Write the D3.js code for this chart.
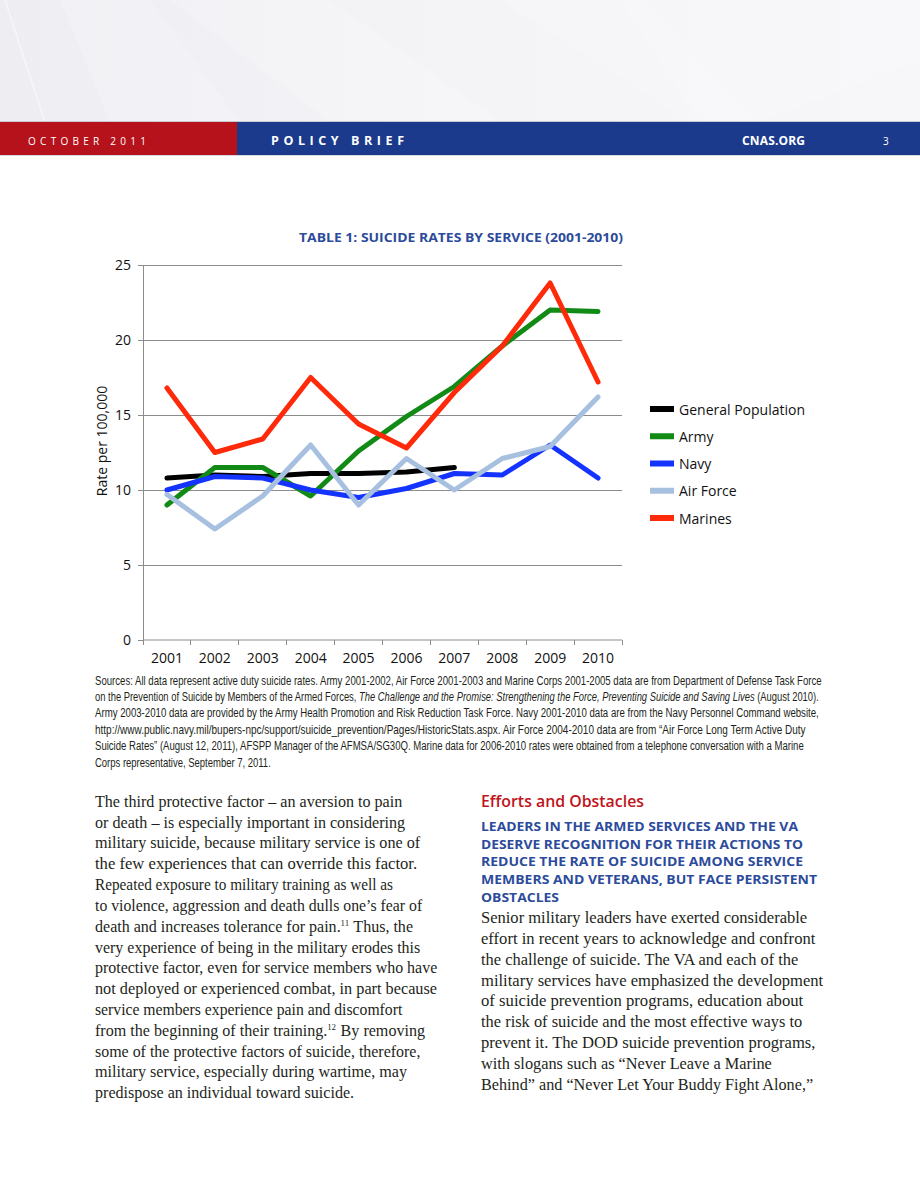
<!DOCTYPE html>
<html><head><meta charset="utf-8">
<script src="https://cdn.jsdelivr.net/npm/d3@7"></script>
<style>body{margin:0;background:#fff} svg{display:block}</style>
</head><body><svg id="c" width="920" height="1191"></svg>
<script>
// ---------- DATA ----------
const years = ["2001","2002","2003","2004","2005","2006","2007","2008","2009","2010"];
const generalPopulation = [10.8, 11.0, 10.9, 11.1, 11.1, 11.2, 11.5];
const army     = [9.0, 11.5, 11.5, 9.6, 12.6, 14.9, 16.9, 19.6, 22.0, 21.9];
const navy     = [10.0, 10.9, 10.8, 10.0, 9.5, 10.1, 11.1, 11.0, 13.0, 10.8];
const airForce = [9.7, 7.4, 9.6, 13.0, 9.0, 12.1, 10.0, 12.1, 12.9, 16.2];
const marines  = [16.8, 12.5, 13.4, 17.5, 14.4, 12.8, 16.5, 19.6, 23.8, 17.2];
const seriesNames = ["General Population","Army","Navy","Air Force","Marines"];
const seriesColors = ["#000000","#118a16","#1433ff","#a8c0e0","#ff2a0a"];
const yTicks = [0,5,10,15,20,25];
const chartTitle = "TABLE 1: SUICIDE RATES BY SERVICE (2001-2010)";
const yTitle = "Rate per 100,000";

const series = [generalPopulation, army, navy, airForce, marines].map((v,i)=>({name:seriesNames[i], color:seriesColors[i], values:v}));

const svg = d3.select("#c");

// ---------- HEADER ----------
const defs = svg.append("defs");
const gr = defs.append("linearGradient").attr("id","hg").attr("x1","0").attr("x2","1").attr("y1","0").attr("y2","0");
gr.append("stop").attr("offset","0").attr("stop-color","#eeedf2");
gr.append("stop").attr("offset","0.5").attr("stop-color","#f4f4f7");
gr.append("stop").attr("offset","1").attr("stop-color","#f7f7f9");
svg.append("rect").attr("x",0).attr("y",0).attr("width",920).attr("height",122).attr("fill","url(#hg)");
[[ [60,0],[150,0],[240,122],[110,122] ],[ [170,0],[330,0],[500,122],[330,122] ],[ [500,0],[640,0],[760,122],[690,122] ],[ [620,0],[920,0],[920,60],[760,122],[700,122] ]]
 .forEach(p=>svg.append("polygon").attr("points",p.map(d=>d.join(",")).join(" ")).attr("fill","#fff").attr("opacity",0.18));
svg.append("line").attr("x1",5).attr("y1",0).attr("x2",45).attr("y2",122).attr("stroke","#fff").attr("stroke-width",1.5).attr("opacity",0.5);
svg.append("rect").attr("x",0).attr("y",121).attr("width",920).attr("height",1).attr("fill","#c9c9d3");
svg.append("rect").attr("x",0).attr("y",122).attr("width",237).attr("height",33).attr("fill","#b5121b");
svg.append("rect").attr("x",237).attr("y",122).attr("width",683).attr("height",33).attr("fill","#1b3a8c");
svg.append("rect").attr("x",0).attr("y",155).attr("width",920).attr("height",1).attr("fill","#d8d8e0");
const hdr = (t,x,w,size,weight)=>svg.append("text").attr("x",x).attr("y",145).text(t)
  .attr("font-family","Open Sans, sans-serif").attr("font-size",size).attr("font-weight",weight)
  .attr("fill","#fff").attr("textLength",w).attr("lengthAdjust","spacing");
hdr("OCTOBER 2011",28,118,10,400);
hdr("POLICY BRIEF",271,133,12.5,700);
hdr("CNAS.ORG",742,63,12,700);
hdr("3",883,5,10,400);

// ---------- CHART ----------
const x = d3.scaleBand().domain(years).range([143,622]);
const y = d3.scaleLinear().domain([0,25]).range([640,265]);
const g = svg.append("g").attr("font-family","Open Sans, sans-serif");

g.append("text").attr("x",623).attr("y",242).attr("text-anchor","end")
  .attr("font-size",13).attr("font-weight",700).attr("fill","#2c4b9b").text(chartTitle)
  .attr("textLength",324).attr("lengthAdjust","spacingAndGlyphs");

// gridlines
g.append("g").selectAll("line").data(yTicks.filter(d=>d>0)).join("line")
  .attr("x1",143).attr("x2",622).attr("y1",d=>y(d)).attr("y2",d=>y(d))
  .attr("stroke","#8c8c8c").attr("stroke-width",1).attr("shape-rendering","crispEdges");

const yAxis = g.append("g").attr("transform","translate(143,0)")
  .call(d3.axisLeft(y).tickValues(yTicks).tickSize(5).tickPadding(7));
const xAxis = g.append("g").attr("transform","translate(0,640)")
  .call(d3.axisBottom(x).tickSize(0).tickPadding(13));
[yAxis,xAxis].forEach(a=>{
  a.select(".domain").attr("stroke","#8c8c8c");
  a.selectAll(".tick line").attr("stroke","#8c8c8c");
  a.selectAll("text").attr("font-size",14).attr("fill","#111").attr("font-family","Open Sans, sans-serif");
});
xAxis.select(".domain").attr("d","M143,0H622");
// category boundary ticks
g.append("g").selectAll("line").data(years.concat(["end"])).join("line")
  .attr("x1",(d,i)=>143+i*x.step()).attr("x2",(d,i)=>143+i*x.step())
  .attr("y1",640).attr("y2",645).attr("stroke","#8c8c8c").attr("shape-rendering","crispEdges");

g.append("text").attr("transform","translate(107,441) rotate(-90)").attr("text-anchor","middle")
  .attr("font-size",14).attr("fill","#111").text(yTitle);

const line = d3.line().x((d,i)=>x(years[i])+x.bandwidth()/2).y(d=>y(d));
g.append("g").selectAll("path").data(series).join("path")
  .attr("d",d=>line(d.values)).attr("fill","none").attr("stroke",d=>d.color)
  .attr("stroke-width",5).attr("stroke-linejoin","round").attr("stroke-linecap","round");

// legend
const lg = g.append("g").selectAll("g").data(series).join("g")
  .attr("transform",(d,i)=>`translate(650,${409+i*27.25})`);
lg.append("rect").attr("x",0).attr("y",-3).attr("width",24).attr("height",6).attr("fill",d=>d.color);
lg.append("text").attr("x",29).attr("y",5.5).attr("font-size",14).attr("fill","#111").text(d=>d.name);

// ---------- SOURCES ----------
const srcLines = [
  [["Sources: All data represent active duty suicide rates. Army 2001-2002, Air Force 2001-2003 and Marine Corps 2001-2005 data are from Department of Defense Task Force",0]],
  [["on the Prevention of Suicide by Members of the Armed Forces, ",0],["The Challenge and the Promise: Strengthening the Force, Preventing Suicide and Saving Lives",1],[" (August 2010).",0]],
  [["Army 2003-2010 data are provided by the Army Health Promotion and Risk Reduction Task Force. Navy 2001-2010 data are from the Navy Personnel Command website,",0]],
  [["http://www.public.navy.mil/bupers-npc/support/suicide_prevention/Pages/HistoricStats.aspx. Air Force 2004-2010 data are from \u201cAir Force Long Term Active Duty",0]],
  [["Suicide Rates\u201d (August 12, 2011), AFSPP Manager of the AFMSA/SG30Q. Marine data for 2006-2010 rates were obtained from a telephone conversation with a Marine",0]],
  [["Corps representative, September 7, 2011.",0]]
];
const srcW = [728,724,724,711,709,176];
srcLines.forEach((segs,i)=>{
  const t = svg.append("text").attr("x",0).attr("y",0)
    .attr("font-family","Liberation Sans, Arial, sans-serif").attr("font-size",12.3).attr("fill","#231f20");
  segs.forEach(s=>t.append("tspan").text(s[0]).attr("font-style",s[1]?"italic":"normal"));
  const nat = t.node().getComputedTextLength();
  t.attr("transform",`translate(95,${684.5+i*16.4}) scale(${srcW[i]/nat},1)`);
});

// ---------- BODY TEXT ----------
const leftLines = [
  ["The third protective factor \u2013 an aversion to pain"],
  ["or death \u2013 is especially important in considering"],
  ["military suicide, because military service is one of"],
  ["the few experiences that can override this factor."],
  ["Repeated exposure to military training as well as"],
  ["to violence, aggression and death dulls one\u2019s fear of"],
  ["death and increases tolerance for pain.","11"," Thus, the"],
  ["very experience of being in the military erodes this"],
  ["protective factor, even for service members who have"],
  ["not deployed or experienced combat, in part because"],
  ["service members experience pain and discomfort"],
  ["from the beginning of their training.","12"," By removing"],
  ["some of the protective factors of suicide, therefore,"],
  ["military service, especially during wartime, may"],
  ["predispose an individual toward suicide."]
];
const leftW = [307,310,325,322,298,327,318,325,342,342,307,330,325,312,259];
const bodyLine = (parts,xx,yy,w)=>{
  const grp = svg.append("g").attr("font-family","Liberation Serif, Times New Roman, serif").attr("fill","#231f20");
  let cx = 0;
  parts.forEach((p,j)=>{
    const t = grp.append("text").attr("x",cx).attr("y",j===1?-6:0).attr("font-size",j===1?9:16.3)
      .attr("xml:space","preserve").style("white-space","pre").text(p);
    cx += t.node().getComputedTextLength() + (j===1?0.5:0);
  });
  grp.attr("transform",`translate(${xx},${yy}) scale(${w/cx},1)`);
};
leftLines.forEach((l,i)=>bodyLine(l,95,806.7+i*20.83,leftW[i]));

svg.append("text").attr("x",481).attr("y",807).attr("font-family","Open Sans, sans-serif")
  .attr("font-size",16.5).attr("font-weight",600).attr("fill","#bf1520").text("Efforts and Obstacles")
  .attr("textLength",163).attr("lengthAdjust","spacingAndGlyphs");
const capLines = ["LEADERS IN THE ARMED SERVICES AND THE VA","DESERVE RECOGNITION FOR THEIR ACTIONS TO","REDUCE THE RATE OF SUICIDE AMONG SERVICE","MEMBERS AND VETERANS, BUT FACE PERSISTENT","OBSTACLES"];
const capW = [317,322,322,336,78];
capLines.forEach((l,i)=>svg.append("text").attr("x",481).attr("y",830.7+i*17.8)
  .attr("font-family","Open Sans, sans-serif").attr("font-size",13).attr("font-weight",700).attr("fill","#2c4b9b")
  .text(l).attr("textLength",capW[i]).attr("lengthAdjust","spacingAndGlyphs"));
const rightLines = [
  ["Senior military leaders have exerted considerable"],
  ["effort in recent years to acknowledge and confront"],
  ["the challenge of suicide. The VA and each of the"],
  ["military services have emphasized the development"],
  ["of suicide prevention programs, education about"],
  ["the risk of suicide and the most effective ways to"],
  ["prevent it. The DOD suicide prevention programs,"],
  ["with slogans such as \u201cNever Leave a Marine"],
  ["Behind\u201d and \u201cNever Let Your Buddy Fight Alone,\u201d"]
];
const rightW = [326,334,317,342,322,321,334,291,332];
rightLines.forEach((l,i)=>bodyLine(l,481,923+i*20.85,rightW[i]));
</script></body></html>
